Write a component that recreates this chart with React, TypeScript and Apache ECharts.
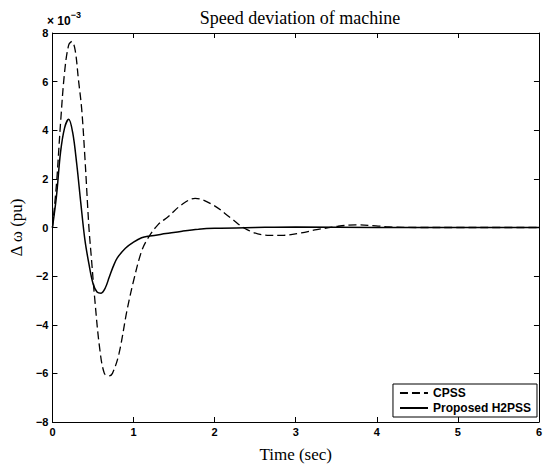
import React, { useEffect, useRef } from "react";
import * as echarts from "echarts";

// Values are in units of 1e-3 pu
const cpssTime = [0, 0.05, 0.1, 0.15, 0.2, 0.24, 0.28, 0.32, 0.36, 0.4, 0.45, 0.48, 0.52, 0.58, 0.64, 0.7, 0.74, 0.82, 0.92, 1.0, 1.1, 1.18, 1.3, 1.43, 1.59, 1.76, 1.98, 2.2, 2.4, 2.65, 2.85, 3.07, 3.26, 3.52, 3.74, 3.99, 4.15, 4.5, 5.0, 5.5, 6.0];
const cpssValue = [0, 1.8, 4.3, 6.4, 7.5, 7.65, 7.3, 6.1, 4.9, 2.9, 0, -1.24, -2.87, -4.9, -6.0, -6.1, -6.0, -5.2, -3.4, -2.2, -0.97, -0.43, 0.11, 0.45, 0.93, 1.2, 0.93, 0.39, -0.09, -0.32, -0.32, -0.22, -0.09, 0.05, 0.11, 0.07, 0.02, 0, 0, 0, 0];

const h2Time = [0, 0.05, 0.1, 0.15, 0.2, 0.25, 0.3, 0.35, 0.4, 0.45, 0.5, 0.55, 0.6, 0.65, 0.7, 0.75, 0.8, 0.9, 1.0, 1.1, 1.2, 1.4, 1.6, 1.8, 2.0, 2.5, 3.0, 4.0, 5.0, 6.0];
const h2Value = [0, 1.3, 3.1, 4.1, 4.45, 3.9, 2.6, 1.0, -0.5, -1.5, -2.3, -2.65, -2.7, -2.5, -2.05, -1.6, -1.25, -0.85, -0.6, -0.42, -0.35, -0.25, -0.15, -0.07, -0.03, 0, 0.02, 0, 0, 0];

const xTicks = [0, 1, 2, 3, 4, 5, 6];
const yTicks = [-8, -6, -4, -2, 0, 2, 4, 6, 8];

const title = "Speed deviation of machine";
const xLabel = "Time (sec)";
const yLabel = "Δ ω (pu)";
const seriesNames = ["CPSS", "Proposed H2PSS"];

export default function App() {
  const ref = useRef<HTMLDivElement>(null);
  useEffect(() => {
    if (!ref.current) return;
    const chart = echarts.init(ref.current, null, { renderer: "svg" });
    const sans = "Liberation Sans, Arial, sans-serif";
    const serif = "Liberation Serif, Times New Roman, serif";
    const tickFont = { fontFamily: sans, fontSize: 11, fontWeight: "bold" as const, color: "#000" };
    const axisCommon = {
      axisLine: { show: true, onZero: false, lineStyle: { color: "#000", width: 1 } },
      axisTick: { show: true, inside: true, length: 5, lineStyle: { color: "#000", width: 1 } },
      splitLine: { show: false },
    };
    chart.setOption({
      animation: false,
      backgroundColor: "#fff",
      title: {
        text: title,
        left: 295,
        top: 4,
        textAlign: "center",
        textStyle: { fontFamily: serif, fontSize: 18, fontWeight: "normal", color: "#000" },
      },
      grid: { left: 49, right: 3, top: 33, bottom: 42 },
      xAxis: [
        {
          type: "value", min: 0, max: 6, interval: 1, position: "bottom",
          ...axisCommon,
          axisLabel: { ...tickFont, margin: 4, formatter: (v: number) => (xTicks.includes(v) ? String(v) : "") },
          name: xLabel, nameLocation: "middle", nameGap: 24,
          nameTextStyle: { fontFamily: serif, fontSize: 17, color: "#000" },
        },
        {
          type: "value", min: 0, max: 6, interval: 1, position: "top",
          ...axisCommon, axisLabel: { show: false },
        },
      ],
      yAxis: [
        {
          type: "value", min: -8, max: 8, interval: 2, position: "left",
          ...axisCommon,
          axisLabel: { ...tickFont, margin: 4, formatter: (v: number) => (yTicks.includes(v) ? (v < 0 ? "−" + Math.abs(v) : String(v)) : "") },
          name: yLabel, nameLocation: "middle", nameGap: 26, nameRotate: 90,
          nameTextStyle: { fontFamily: serif, fontSize: 17, color: "#000" },
        },
        {
          type: "value", min: -8, max: 8, interval: 2, position: "right",
          ...axisCommon, axisLabel: { show: false },
        },
      ],
      legend: {
        right: 8,
        top: 384,
        orient: "vertical",
        itemWidth: 28,
        itemHeight: 10,
        itemGap: 3,
        padding: [3, 6, 3, 6],
        borderColor: "#000",
        borderWidth: 1,
        backgroundColor: "#fff",
        itemStyle: { opacity: 0 },
        textStyle: { fontFamily: sans, fontSize: 12, fontWeight: "bold", color: "#000" },
        data: seriesNames,
      },
      graphic: [
        {
          type: "text",
          left: 47,
          top: 10,
          style: {
            text: "{a|× 10}{b|−3}",
            rich: {
              a: { fontFamily: sans, fontSize: 12, fontWeight: "bold", fill: "#000", verticalAlign: "bottom" },
              b: { fontFamily: sans, fontSize: 9, fontWeight: "bold", fill: "#000", verticalAlign: "top", padding: [0, 0, 8, 0] },
            },
          },
        },
      ],
      series: [
        {
          name: seriesNames[0],
          type: "line",
          data: cpssTime.map((t, i) => [t, cpssValue[i]]),
          symbol: "none",
          smooth: 0.35,
          lineStyle: { color: "#000", width: 1.3, type: [8, 4] },
          itemStyle: { color: "#000" },
          z: 3,
        },
        {
          name: seriesNames[1],
          type: "line",
          data: h2Time.map((t, i) => [t, h2Value[i]]),
          symbol: "none",
          smooth: 0.35,
          lineStyle: { color: "#000", width: 1.5, type: "solid" },
          itemStyle: { color: "#000" },
          z: 4,
        },
      ],
    });
    return () => chart.dispose();
  }, []);
  return <div ref={ref} style={{ width: 545, height: 468, position: "absolute", left: 0, top: 0 }} />;
}
